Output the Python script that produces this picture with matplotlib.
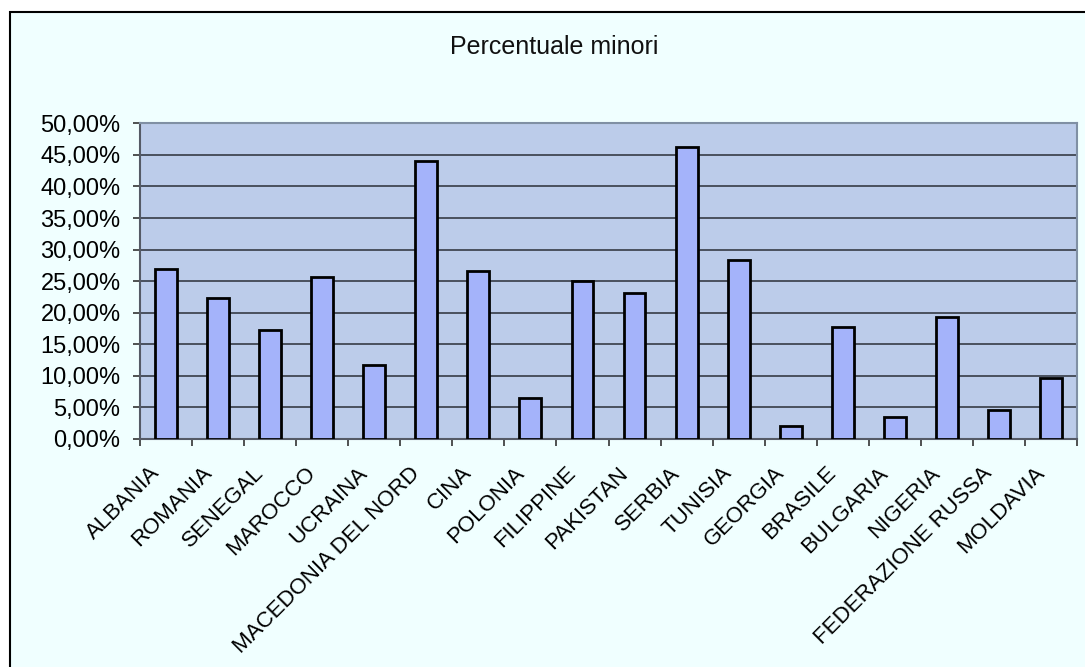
import matplotlib.pyplot as plt
import matplotlib.patches as mpatches
from matplotlib.ticker import FixedLocator, FuncFormatter
from matplotlib.transforms import ScaledTranslation
import numpy as np

plt.rcParams['font.family'] = ['Liberation Sans', 'DejaVu Sans']

# dati
paesi = ['ALBANIA', 'ROMANIA', 'SENEGAL', 'MAROCCO', 'UCRAINA',
         'MACEDONIA DEL NORD', 'CINA', 'POLONIA', 'FILIPPINE', 'PAKISTAN',
         'SERBIA', 'TUNISIA', 'GEORGIA', 'BRASILE', 'BULGARIA', 'NIGERIA',
         'FEDERAZIONE RUSSA', 'MOLDAVIA']
minori = [26.9, 22.4, 17.2, 25.7, 11.7, 44.1, 26.6, 6.5, 25.0, 23.2,
          46.3, 28.3, 2.1, 17.8, 3.5, 19.3, 4.6, 9.6]
titolo = 'Percentuale minori'

W, H = 1085, 667
fig = plt.figure(figsize=(W / 100, H / 100), dpi=100, facecolor='white')

# cornice del grafico (area grafico)
cornice = mpatches.Rectangle((10 / W, -0.1), 1.2, 1.1 - 12 / H,
                             transform=fig.transFigure, facecolor='#F0FFFF',
                             edgecolor='black', linewidth=1.5, zorder=-5)
fig.patches.append(cornice)

ax = fig.add_axes([140 / W, (H - 439) / H, 937 / W, 315.7 / H])
ax.set_facecolor('#BCCCEA')

x = np.arange(len(paesi))
ax.bar(x, minori, width=0.42, color='#A4B3FA', edgecolor='black',
       linewidth=2.0, zorder=3)

ax.set_xlim(-0.5, len(paesi) - 0.5)
ax.set_ylim(0, 50)
ax.set_yticks(np.arange(0, 50.1, 5))
ax.yaxis.set_major_formatter(FuncFormatter(
    lambda v, p: ('%.2f' % v).replace('.', ',') + '%'))
ax.grid(axis='y', color='#2A2F38', linewidth=1.1, zorder=1)
ax.grid(axis='x', visible=False)

ax.set_xticks(x)
ax.set_xticklabels(paesi, rotation=45, ha='right', rotation_mode='anchor')
ax.xaxis.set_minor_locator(FixedLocator(np.arange(-0.5, len(paesi), 1)))
ax.tick_params(axis='x', which='major', length=0, pad=17, labelsize=16)
ax.tick_params(axis='x', which='minor', length=5, width=1.2,
               color='#333333', direction='out')
ax.tick_params(axis='y', length=5, width=1.2, color='#333333', pad=9,
               labelsize=17)
sposta = ScaledTranslation(-0.17, 0, fig.dpi_scale_trans)
for lbl in ax.get_xticklabels():
    lbl.set_transform(lbl.get_transform() + sposta)

for s in ['top', 'right']:
    ax.spines[s].set_color('#8090A4')
    ax.spines[s].set_linewidth(1.5)
for s in ['left', 'bottom']:
    ax.spines[s].set_color('#555A66')
    ax.spines[s].set_linewidth(1.5)

fig.text(554 / W, 1 - 47 / H, titolo, ha='center', va='center',
         fontsize=18, color='#111111')

fig.savefig('out.png', dpi=100, facecolor='white')
